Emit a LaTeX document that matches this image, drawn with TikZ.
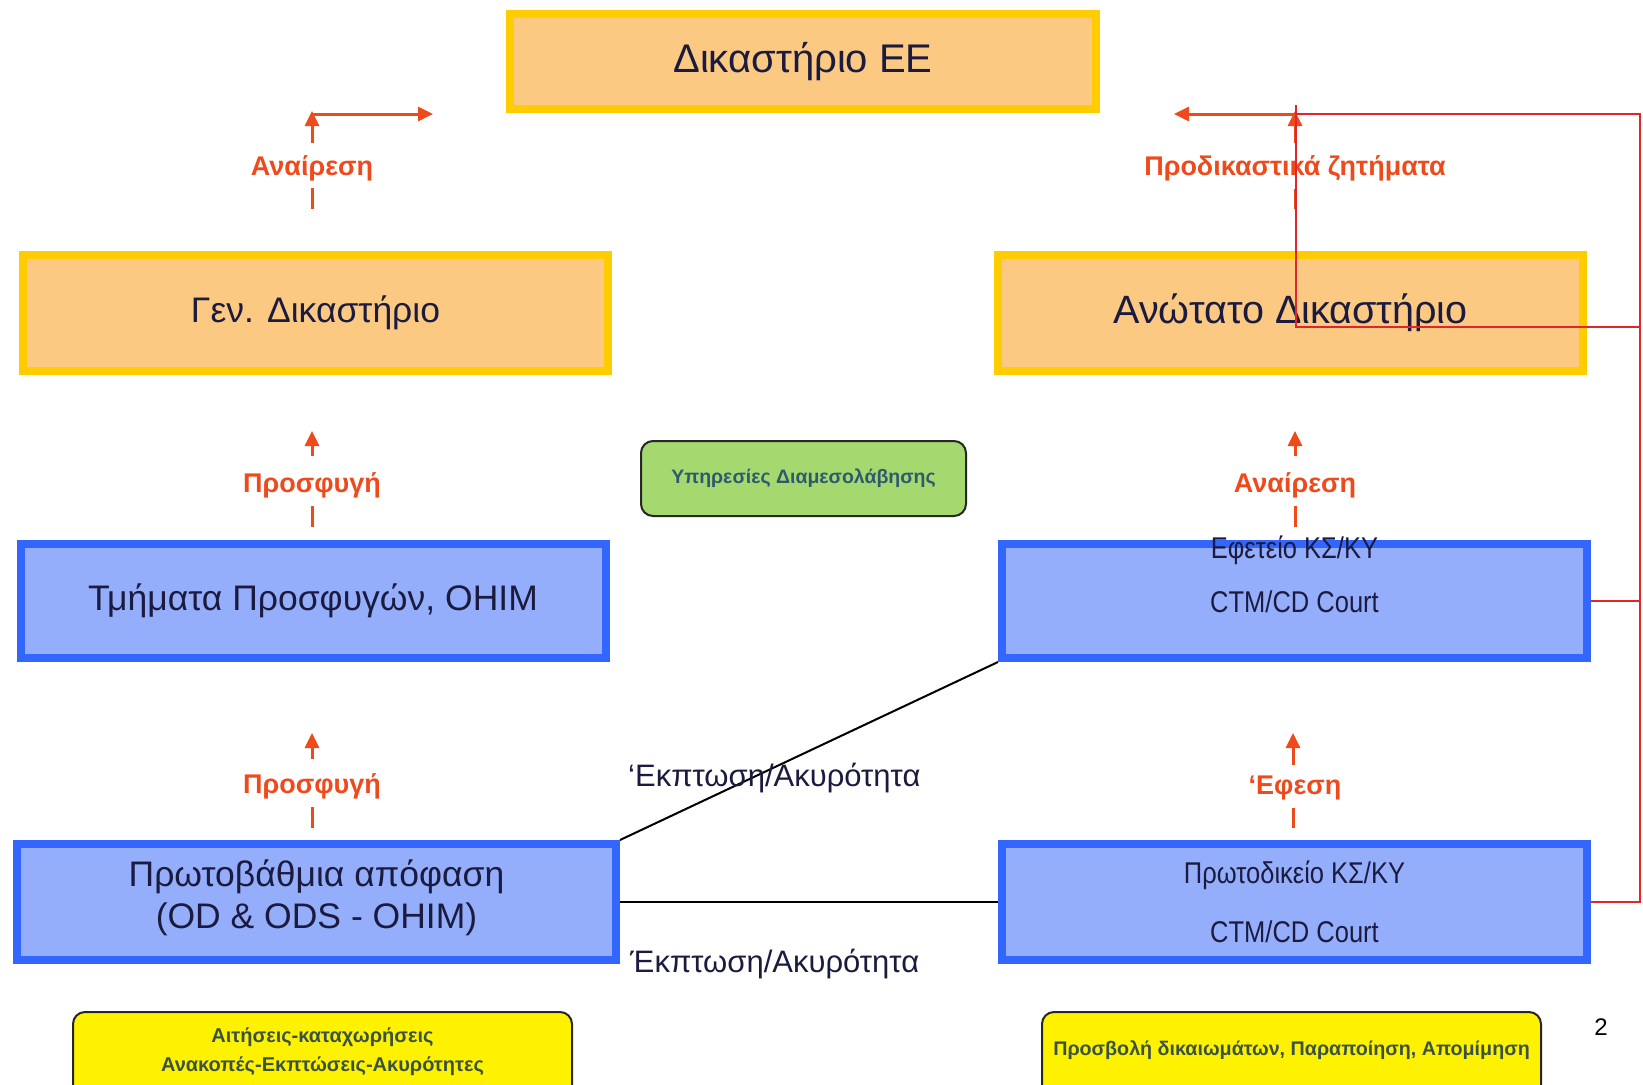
\documentclass[tikz,border=0pt]{standalone}
\usepackage{fontspec}
\setmainfont{Liberation Sans}
\newfontfamily\narrowfont[FakeStretch=0.85]{Liberation Sans}
\usetikzlibrary{arrows.meta}
\definecolor{boxorange}{HTML}{FBC982}
\definecolor{boxgold}{HTML}{FFCC00}
\definecolor{boxblue}{HTML}{94AEFB}
\definecolor{blueedge}{HTML}{3366FF}
\definecolor{arrorange}{HTML}{EE4A1C}
\definecolor{linered}{HTML}{E0262A}
\definecolor{greenfill}{HTML}{A5D86F}
\definecolor{tealtext}{HTML}{2D5B6E}
\definecolor{olivetext}{HTML}{3A5244}
\definecolor{navytext}{HTML}{1B1B40}
\newcommand{\setfs}[2]{\fontsize{#1pt}{#2pt}\selectfont}
\tikzset{
  courtbox/.style={draw=boxgold, fill=boxorange, line width=8pt, minimum width=586pt, minimum height=95pt, inner sep=0pt, text=navytext, font=\setfs{40}{48}},
  bluebox/.style={draw=blueedge, fill=boxblue, line width=8pt, minimum width=585pt, minimum height=114pt, inner sep=0pt, text=navytext, font=\setfs{40}{48}},
  lbl/.style={text=arrorange, font=\bfseries\setfs{27}{32}, inner sep=0pt},
  smalltxt/.style={text=navytext, font=\narrowfont\setfs{30}{36}, inner sep=0pt},
  bigtxt/.style={text=navytext, font=\setfs{35.5}{42}, inner sep=0pt},
  strikelbl/.style={text=navytext, font=\setfs{31}{36}, inner sep=0pt, anchor=west},
  uparrow/.style={draw=arrorange, line width=3pt, -{Triangle[length=15pt,width=14pt]}},
  ticklin/.style={draw=arrorange, line width=3pt},
  redline/.style={draw=linered, line width=2.5pt},
  blackline/.style={draw=black, line width=2pt},
  notebox/.style={draw=black!85, line width=2pt, rounded corners=12pt, inner sep=0pt}
}
\begin{document}
\begin{tikzpicture}[x=1pt,y=-1pt]
\useasboundingbox (0,0) rectangle (1643,1084);
\clip (0,0) rectangle (1643,1084);
\fill[white] (0,0) rectangle (1643,1084);

% court boxes
\node[courtbox] (ee) at (803,61.5) {Δικαστήριο ΕΕ};
\node[courtbox, minimum width=585pt, minimum height=116pt, font=\setfs{35.5}{42}] (gen) at (315.5,313) {Γεν. Δικαστήριο};
\node[courtbox, minimum width=585pt, minimum height=116pt, font=\setfs{39.5}{46}] (anot) at (1290.5,313) {Ανώτατο Δικαστήριο};

% blue boxes
\node[bluebox, font=\setfs{35.5}{42}] (tmim) at (313,601) {Τμήματα Προσφυγών, OHIM};
\node[bluebox] (efet) at (1294.5,601) {};
\node[bluebox, minimum width=599pt, minimum height=116pt] (prot) at (316.5,902) {};
\node[bluebox, minimum height=116pt] (protod) at (1294.5,902) {};

\node[smalltxt] (efet1) at (1294.5,550) {Εφετείο ΚΣ/ΚΥ};
\node[smalltxt] (efet2) at (1294.5,602) {CTM/CD Court};
\node[smalltxt] (protod1) at (1294.5,875) {Πρωτοδικείο ΚΣ/ΚΥ};
\node[smalltxt] (protod2) at (1294.5,932) {CTM/CD Court};
\node[bigtxt] (prot1) at (316.5,877) {Πρωτοβάθμια απόφαση};
\node[bigtxt] (prot2) at (316.5,919) {(OD \& ODS - OHIM)};

% green box
\node[notebox, fill=greenfill, minimum width=325pt, minimum height=75pt, text=tealtext, font=\bfseries\setfs{19.5}{24}] (mediat) at (803.5,478.5) {Υπηρεσίες Διαμεσολάβησης};

% yellow boxes
\node[notebox, fill=yellow, minimum width=499pt, minimum height=90pt] (yleft) at (322.5,1057) {};
\node[text=olivetext, font=\bfseries\setfs{20}{24}, inner sep=0pt] (yl1) at (322.5,1037) {Αιτήσεις-καταχωρήσεις};
\node[text=olivetext, font=\bfseries\setfs{20}{24}, inner sep=0pt] (yl2) at (322.5,1066) {Ανακοπές-Εκπτώσεις-Ακυρότητες};
\node[notebox, fill=yellow, minimum width=499pt, minimum height=90pt] (yright) at (1291.5,1057) {};
\node[text=olivetext, font=\bfseries\setfs{19.7}{24}, inner sep=0pt] (yr1) at (1291.5,1050) {Προσβολή δικαιωμάτων, Παραποίηση, Απομίμηση};

\node[text=black, font=\setfs{24}{28}, inner sep=0pt] (pnum) at (1601,1027) {2};

% labels
\node[lbl] (l1) at (312,168) {Αναίρεση};
\node[lbl] (l2) at (312,485) {Προσφυγή};
\node[lbl] (l3) at (312,786) {Προσφυγή};
\node[lbl] (r1) at (1295,168) {Προδικαστικά ζητήματα};
\node[lbl] (r2) at (1295,485) {Αναίρεση};
\node[lbl] (r3) at (1295,788) {‘Εφεση};

% black connectors
\draw[blackline] (prot.north east) -- (efet.south west);
\draw[blackline] (prot.east) -- (protod.west);
\node[strikelbl] (ek1) at (628,778) {‘Εκπτωση/Ακυρότητα};
\node[strikelbl] (ek2) at (630,964) {Έκπτωση/Ακυρότητα};

% orange arrows and ticks
\draw[ticklin] (312,188) -- (312,209);
\draw[uparrow] (312,143) -- (312,111);
\draw[uparrow] (310.5,114) -- (433,114);
\draw[ticklin] (312,506) -- (312,527);
\draw[uparrow] (312,456) -- (312,431);
\draw[ticklin] (312,807) -- (312,828);
\draw[uparrow] (312,759) -- (312,733);

\draw[ticklin] (1295,189) -- (1295,209);
\draw[uparrow] (1295,143) -- (1295,111);
\draw[uparrow] (1296.5,114) -- (1174,114);
\draw[ticklin] (1295,506) -- (1295,527);
\draw[uparrow] (1295,456) -- (1295,431);
\draw[ticklin] (1293,808) -- (1293,828);
\draw[uparrow] (1293,765) -- (1293,733);

% red connectors
\coordinate (rtop) at (1640,114);
\coordinate (rmid) at (1640,327);
\draw[redline] (efet.east) -- (efet.east -| rtop);
\draw[redline] (protod.east) -- (protod.east -| rtop) -- (rtop) -- (1295,114);
\draw[redline] (1296,105) -- (1296,327) -- (rmid);
\end{tikzpicture}
\end{document}
